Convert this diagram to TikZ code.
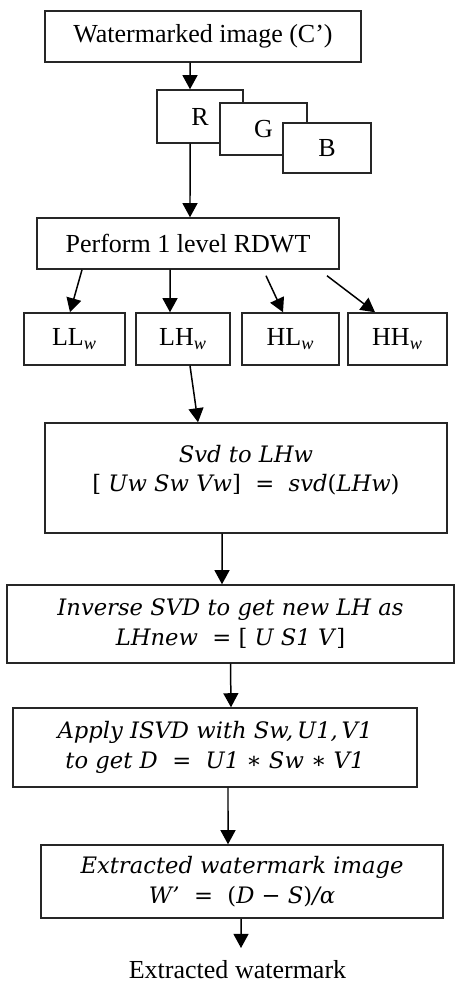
\documentclass[tikz,border=0pt]{standalone}
\usepackage{fontspec}
\setmainfont{Liberation Serif}
\newfontfamily\eqfont{DejaVu Serif}
\usepackage{tikz}
\usetikzlibrary{arrows.meta}
\newcommand{\ro}[1]{\textup{#1}}

\tikzset{
	box/.style={draw=black!85, fill=white, inner sep=0pt,
		font=\fontsize{14.8}{17}\selectfont},
	eqbox/.style={box, align=center,
		font=\eqfont\itshape\fontsize{12.9}{17}\selectfont},
	>={Triangle[width=8.5pt,length=8pt]}
}

\begin{document}
\begin{tikzpicture}[x=0.02cm, y=-0.02cm, line width=0.85pt]
	\useasboundingbox (0,0) rectangle (455,983);
	\node [box, minimum width=6.32cm, minimum height=1.02cm] (1) at (203,36.5)
		{ Watermarked image (C’) };
	\node [box, minimum width=1.72cm, minimum height=1.06cm] (2) at (200,116.5)
		{ R };
	\node [box, minimum width=1.74cm, minimum height=1.04cm] (3) at (263.5,129)
		{ G };
	\node [box, minimum width=1.76cm, minimum height=1.00cm] (4) at (327,148)
		{ B };
	\node [box, minimum width=6.04cm, minimum height=1.02cm] (5) at (188,243.5)
		{ Perform 1 level RDWT };
	\node [box, minimum width=2.02cm, minimum height=1.04cm] (6) at (74.5,339)
		{ LL\textsubscript{\itshape w} };
	\node [box, minimum width=1.88cm, minimum height=1.04cm] (7) at (183,339)
		{ LH\textsubscript{\itshape w} };
	\node [box, minimum width=1.94cm, minimum height=1.04cm] (8) at (290.5,339)
		{ HL\textsubscript{\itshape w} };
	\node [box, minimum width=1.98cm, minimum height=1.04cm] (9) at (397.5,339)
		{ HH\textsubscript{\itshape w} };
	\node [eqbox, minimum width=8.04cm, minimum height=2.2cm] (10) at (246,478)
		{ Svd to LHw \\
		  \ro{[} Uw Sw Vw\ro{]} \ \ro{=} \ svd\ro{(}LHw\ro{)} \\[-6pt] \mbox{} };
	\node [eqbox, minimum width=8.94cm, minimum height=1.56cm] (11) at (230.5,624)
		{ Inverse SVD to get new LH as \\
		  LHnew \ \ro{=} \ro{[} U S1 V\ro{]} };
	\node [eqbox, minimum width=8.08cm, minimum height=1.58cm] (12) at (215,747.5)
		{ Apply ISVD with Sw,\,U1,\,V1 \\
		  to get D \ \ro{=} \ U1 \ro{∗} Sw \ro{∗} V1 };
	\node [eqbox, minimum width=8.04cm, minimum height=1.46cm] (13) at (242,881.5)
		{ Extracted watermark image \\
		  W’ \ \ro{=} \ \ro{(}D \ro{−} S\ro{)}/α };
	\node [anchor=north, inner xsep=0pt, inner ysep=6.5pt,
		font=\fontsize{14.8}{17}\selectfont] (14) at (237.5,948)
		{ Extracted watermark };
	% arrows
	\draw [ -> ] ([xshift=-0.26cm]1.south) to ([xshift=-0.2cm]2.north);
	\draw [ -> ] ([xshift=-0.2cm]2.south) to ([xshift=0.04cm]5.north);
	\draw [ -> ] ([xshift=-2.12cm]5.south) to ([xshift=-0.09cm]6.north);
	\draw [ -> ] ([xshift=-0.36cm]5.south) to ([xshift=-0.26cm]7.north);
	\draw [ -> ] ([xshift=1.56cm, yshift=-0.12cm]5.south) to ([xshift=-0.15cm]8.north);
	\draw [ -> ] ([xshift=2.78cm, yshift=-0.12cm]5.south) to ([xshift=-0.45cm]9.north);
	\draw [ -> ] ([xshift=0.14cm]7.south) to ([xshift=-0.96cm]10.north);
	\draw [ -> ] ([xshift=-0.48cm]10.south) to ([xshift=-0.17cm]11.north);
	\draw [ -> ] (11.south) to ([xshift=0.32cm]12.north);
	\draw [ -> ] ([xshift=0.26cm]12.south) to ([xshift=-0.28cm]13.north);
	\draw [ -> ] ([xshift=-0.02cm]13.south) to ([xshift=0.07cm]14.north);
\end{tikzpicture}
\end{document}
